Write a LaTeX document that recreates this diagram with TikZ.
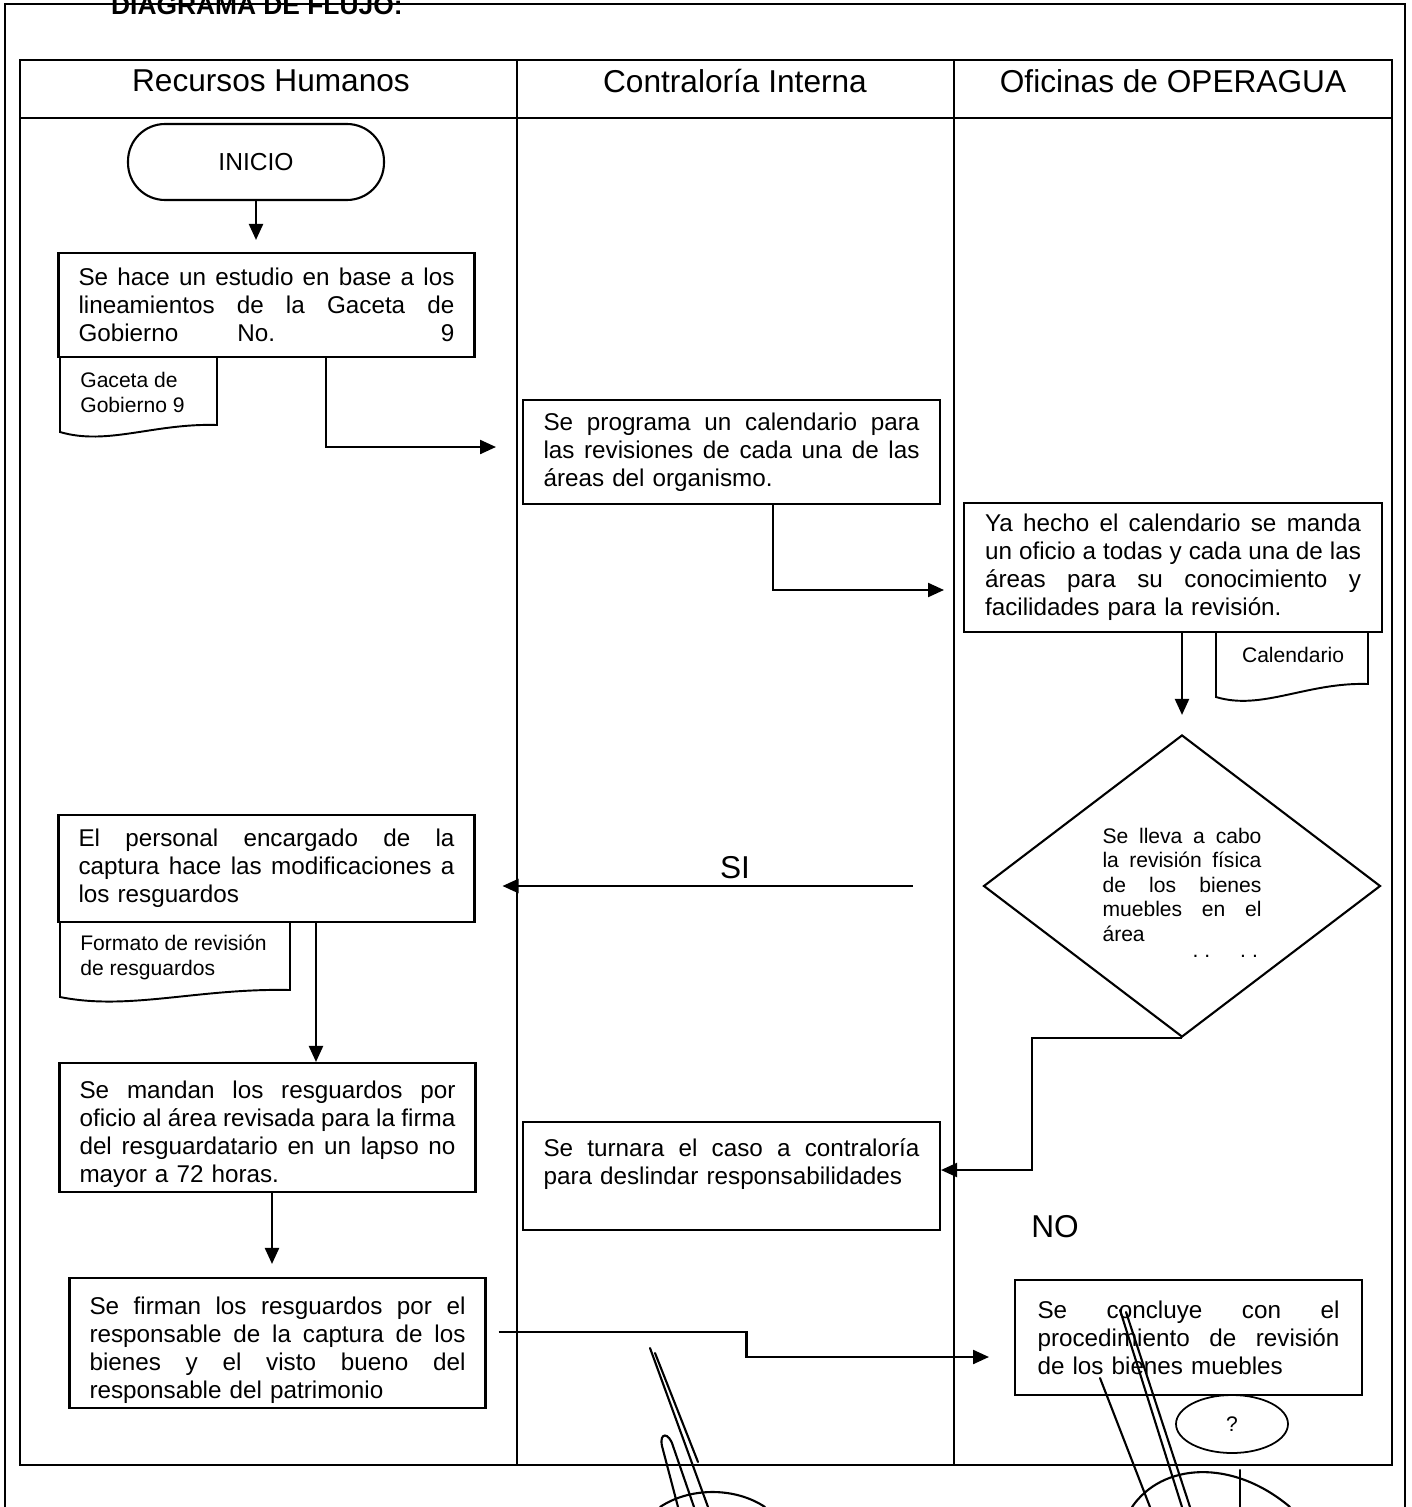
\documentclass[tikz,border=0pt]{standalone}
\usepackage{fontspec}
\setmainfont{Liberation Sans}
\usetikzlibrary{arrows.meta,shapes.geometric}

\newcommand{\fullline}[1]{{\spaceskip=0pt\xspaceskip=0pt\makebox[\linewidth][s]{#1}}}

\tikzset{
  carril/.style={draw=black, line width=0.8pt},
  encabezado/.style={font=\fontsize{18}{21.6}\selectfont},
  caja/.style={draw=black, line width=1.2pt, inner xsep=0.4cm, inner ysep=2pt,
               text width=7.52cm, font=\fontsize{13.8}{16}\selectfont},
  terminal/.style={draw=black, line width=1.2pt, rounded corners=0.74cm,
                   minimum width=5.12cm, minimum height=1.52cm,
                   font=\fontsize{14}{16}\selectfont},
  decision/.style={diamond, draw=black, line width=1.2pt, aspect=1,
                   minimum width=7.94cm, minimum height=6.04cm, inner sep=0pt,
                   text width=3.18cm, font=\fontsize{12}{13.9}\selectfont},
  docutexto/.style={align=left, inner sep=0pt, font=\fontsize{12}{14.2}\selectfont},
  docuborde/.style={draw=black, line width=1.1pt},
  flecha/.style={line width=1.3pt, -{Triangle[length=3.2mm,width=2.8mm]}},
  etiqueta/.style={font=\fontsize{18}{21.6}\selectfont},
  firma/.style={line width=1.2pt, line cap=round}
}

\begin{document}
\begin{tikzpicture}[x=0.02cm, y=-0.02cm]
  \useasboundingbox (0,0) rectangle (1411,1507);
  % documento con borde ondulado: x0, x1, arriba, abajo izq, abajo der
  \def\documento#1#2#3#4#5{%
    \draw[docuborde] (#1,#3) -- (#1,#4)
      .. controls ({#1+0.3*(#2-#1)},{#4+14}) and ({#1+0.6*(#2-#1)},{#5-2}) .. (#2,#5)
      -- (#2,#3);
  }

  % marco y titulo
  \draw[line width=1pt] (5,1520) -- (5,4) -- (1405,4) -- (1405,1520);
  \node[anchor=base west, font=\fontsize{15}{18}\selectfont\bfseries] (titulo)
    at (105,15) {DIAGRAMA DE FLUJO:};

  % carriles
  \draw[carril] (20,60) rectangle (1392,1465);
  \draw[carril] (20,118) -- (1392,118);
  \draw[carril] (517,60) -- (517,1465);
  \draw[carril] (954,60) -- (954,1465);
  \node[encabezado] (rh) at (271,81) {Recursos Humanos};
  \node[encabezado] (ci) at (735,81) {Contraloría Interna};
  \node[encabezado] (op) at (1173,81) {Oficinas de OPERAGUA};

  % Recursos Humanos
  \node[terminal] (inicio) at (256,162) {INICIO};
  \node[caja, minimum width=8.26cm, minimum height=2.08cm] (estudio) at (266.5,305)
    {\fullline{Se hace un estudio en base a los}\\
     \fullline{lineamientos de la Gaceta de}\\
     \fullline{Gobierno No. 9}};
  \documento{60}{217}{357}{432}{425}
  \node[docutexto, anchor=north west] (gaceta) at (80,372) {Gaceta de\\Gobierno 9};

  \node[caja, minimum width=8.26cm, minimum height=2.14cm] (personal) at (266.5,868.5)
    {\fullline{El personal encargado de la}\\
     \fullline{captura hace las modificaciones a}\\
     los resguardos};
  \documento{60}{290}{922}{997}{990}
  \node[docutexto, anchor=north west] (formato) at (80,935)
    {Formato de revisión\\de resguardos};

  \node[caja, text height=18pt, minimum width=8.22cm, minimum height=2.58cm] (mandan)
    at (267.5,1127.5)
    {\fullline{Se mandan los resguardos por}\\
     \fullline{oficio al área revisada para la firma}\\
     \fullline{del resguardatario en un lapso no}\\
     mayor a 72 horas.};
  \node[caja, text height=18pt, minimum width=8.3cm, minimum height=2.6cm] (firman)
    at (277.5,1343)
    {\fullline{Se firman los resguardos por el}\\
     \fullline{responsable de la captura de los}\\
     \fullline{bienes y el visto bueno del}\\
     responsable del patrimonio};

  % Contraloria Interna
  \node[caja, minimum width=8.34cm, minimum height=2.08cm] (programa) at (731.5,452)
    {\fullline{Se programa un calendario para}\\
     \fullline{las revisiones de cada una de las}\\
     áreas del organismo.};
  \node[caja, minimum width=8.34cm, minimum height=2.16cm] (turnar) at (731.5,1176)
    {\fullline{Se turnara el caso a contraloría}\\
     para deslindar responsabilidades\\
     \mbox{}};

  % Oficinas de OPERAGUA
  \node[caja, minimum width=8.36cm, minimum height=2.58cm] (oficio) at (1173,567.5)
    {\fullline{Ya hecho el calendario se manda}\\
     \fullline{un oficio a todas y cada una de las}\\
     \fullline{áreas para su conocimiento y}\\
     facilidades para la revisión.};
  \documento{1216}{1368}{632}{697}{684}
  \node[docutexto] (calendario) at (1293,655) {Calendario};
  \node[decision, text height=16.5pt] (revision) at (1182,886)
    {\fullline{Se lleva a cabo}\\
     \fullline{la revisión física}\\
     \fullline{de los bienes}\\
     \fullline{muebles en el}\\
     área\\[-0.16cm]
     \hspace*{1.8cm}.\hspace{0.12cm}.\hspace{0.6cm}.\hspace{0.12cm}.};
  \node[etiqueta] (no) at (1055,1227) {NO};
  \node[caja, text width=6.04cm, minimum width=6.94cm, minimum height=2.3cm] (concluye)
    at (1188.5,1337.5)
    {\fullline{Se concluye con el}\\
     \fullline{procedimiento de revisión}\\
     de los bienes muebles\\[0.1cm]};
  \node[ellipse, draw=black, line width=1pt, minimum width=2.24cm, minimum height=1.16cm,
        font=\fontsize{12}{14}\selectfont] (pagina) at (1232,1424) {?};

  % conectores
  \draw[flecha, shorten >=0.24cm] (inicio.south) -- (inicio.south |- estudio.north);
  \draw[flecha] ([xshift=1.19cm]estudio.south) |- ([xshift=-0.52cm,yshift=0.1cm]programa.west);
  \draw[flecha] ([xshift=0.83cm]programa.south) |- ([xshift=-0.38cm,yshift=-0.45cm]oficio.west);
  \draw[flecha, shorten >=0.38cm] (oficio.south -| revision.north) -- (revision.north);
  \draw[flecha, shorten <=1.4cm, shorten >=0.54cm] (revision.west) -- (revision.west -| personal.east);
  \node[etiqueta] (si) at (735,868) {SI};
  \draw[flecha] (revision.south) -- ++(-3cm,0) |- ([yshift=0.12cm]turnar.east);
  \draw[flecha] ([xshift=0.99cm]personal.south) -- ([xshift=0.99cm]personal.south |- mandan.north);
  \draw[flecha, shorten >=0.26cm] ([xshift=0.09cm]mandan.south) -- ([xshift=0.09cm]mandan.south |- firman.north);
  \draw[flecha] ([xshift=0.24cm,yshift=0.22cm]firman.east) -- ++(4.96cm,0)
    |- ([xshift=-0.5cm,yshift=-0.39cm]concluye.west);

  % firmas
  \draw[firma] (650,1348) -- (708,1507);
  \draw[firma] (655,1353) -- (698,1462);
  \draw[firma] (678,1507) -- (662,1446) .. controls (659,1432) and (669,1432) .. (673,1446) -- (694,1507);
  \draw[firma] (660,1507) .. controls (690,1487) and (735,1487) .. (765,1507);
  \draw[firma] (1120,1310) -- (1182,1507);
  \draw[firma] (1126,1312) -- (1190,1507);
  \draw[firma] (1100,1378) -- (1150,1507);
  \draw[firma] (1240,1470) -- (1240,1507);
  \draw[firma] (1132,1507) .. controls (1162,1463) and (1232,1458) .. (1290,1507);
\end{tikzpicture}
\end{document}
